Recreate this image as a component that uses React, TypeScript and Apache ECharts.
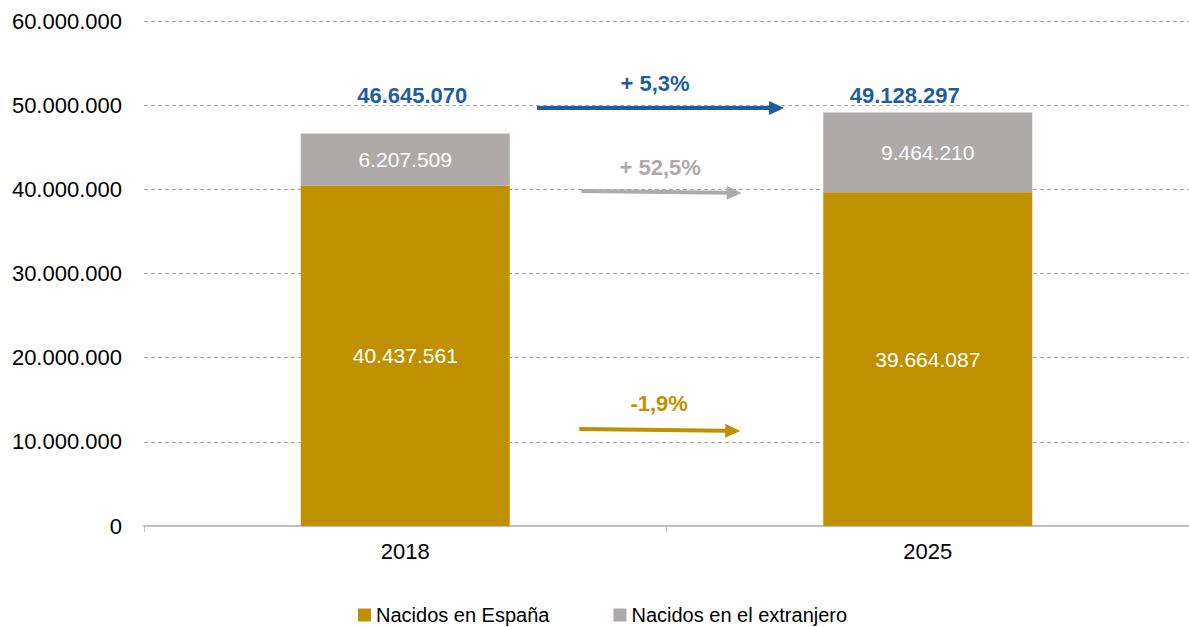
import React, { useEffect, useRef } from "react";
import * as echarts from "echarts";

const categories = ["2018", "2025"];
const nacidosEspana = [40437561, 39664087];
const nacidosExtranjero = [6207509, 9464210];
const totals = [46645070, 49128297];
const totalLabelValue = 51100000;

// Change arrows: x as fraction between the two category centres, y as axis values
const arrowFrom = [0.252, 0.337, 0.333];
const arrowTo = [0.725, 0.644, 0.641];
const arrowFromValue = [49660000, 39800000, 11520000];
const arrowToValue = [49660000, 39560000, 11290000];
const arrowLabels = ["+ 5,3%", "+ 52,5%", "-1,9%"];
const arrowLabelFrac = [0.478, 0.488, 0.486];
const arrowLabelValue = [52630000, 42650000, 14610000];
const arrowColors = ["#1F5E9E", "#AEAAAA", "#BF9000"];

const GOLD = "#BF9000";
const GREY = "#AEAAAA";
const BLUE = "#1F5E9E";
const FONT = "'Liberation Sans', Arial, sans-serif";

const fmt = (v: number) =>
  Math.round(v)
    .toString()
    .replace(/\B(?=(\d{3})+(?!\d))/g, ".");

export default function App() {
  const ref = useRef<HTMLDivElement>(null);
  useEffect(() => {
    if (!ref.current) return;
    const chart = echarts.init(ref.current, null, { renderer: "svg" });
    chart.setOption({
      animation: false,
      textStyle: { fontFamily: FONT },
      grid: { left: 144, right: 0, top: 21, bottom: 101 },
      legend: {
        left: 353,
        top: 600,
        itemWidth: 13,
        itemHeight: 13,
        itemGap: 64,
        icon: "rect",
        textStyle: { fontSize: 20, color: "#000", fontFamily: FONT },
        data: ["Nacidos en España", "Nacidos en el extranjero"],
      },
      xAxis: {
        type: "category",
        data: categories,
        axisLine: { lineStyle: { color: "#BFBFBF", width: 2 } },
        axisTick: { show: true, length: 6, lineStyle: { color: "#BFBFBF" } },
        axisLabel: { fontSize: 22, color: "#000", margin: 14, fontFamily: FONT },
      },
      yAxis: {
        type: "value",
        min: 0,
        max: 60000000,
        interval: 10000000,
        axisLine: { show: false },
        axisTick: { show: false },
        axisLabel: {
          fontSize: 22,
          color: "#000",
          margin: 22,
          fontFamily: FONT,
          formatter: (v: number) => fmt(v),
        },
        splitLine: { lineStyle: { color: "#A6A6A6", type: [4, 3], width: 1 } },
      },
      series: [
        {
          name: "Nacidos en España",
          type: "bar",
          stack: "total",
          barWidth: "40%",
          data: nacidosEspana,
          itemStyle: { color: GOLD },
          label: {
            show: true,
            position: "inside",
            color: "#fff",
            fontSize: 21,
            fontFamily: FONT,
            formatter: (p: any) => fmt(p.value),
          },
        },
        {
          name: "Nacidos en el extranjero",
          type: "bar",
          stack: "total",
          barWidth: "40%",
          data: nacidosExtranjero,
          itemStyle: { color: GREY },
          label: {
            show: true,
            position: "inside",
            color: "#fff",
            fontSize: 21,
            fontFamily: FONT,
            formatter: (p: any) => fmt(p.value),
          },
        },
      ],
    });

    const cx = categories.map((c) => chart.convertToPixel({ xAxisIndex: 0 }, c) as number);
    const py = (v: number) => chart.convertToPixel({ yAxisIndex: 0 }, v) as number;
    const fx = (f: number) => cx[0] + (cx[1] - cx[0]) * f;

    const graphics: any[] = [];
    totals.forEach((t, i) => {
      graphics.push({
        type: "text",
        x: cx[i] + (i === 0 ? 7 : -23),
        y: py(totalLabelValue),
        style: {
          text: fmt(t),
          fill: BLUE,
          font: `bold 22px ${FONT}`,
          align: "center",
          verticalAlign: "middle",
        },
      });
    });
    arrowLabels.forEach((lab, i) => {
      const x1 = fx(arrowFrom[i]);
      const x2 = fx(arrowTo[i]);
      const y1 = py(arrowFromValue[i]);
      const y2 = py(arrowToValue[i]);
      const head = 15;
      const hw = 7;
      const ang = Math.atan2(y2 - y1, x2 - x1);
      const bx = x2 - head * Math.cos(ang);
      const by = y2 - head * Math.sin(ang);
      const nx = -Math.sin(ang) * hw;
      const ny = Math.cos(ang) * hw;
      graphics.push({
        type: "line",
        shape: { x1, y1, x2: bx + 1, y2: by },
        style: { stroke: arrowColors[i], lineWidth: 4 },
      });
      graphics.push({
        type: "polygon",
        shape: {
          points: [
            [x2, y2],
            [bx + nx, by + ny],
            [bx - nx, by - ny],
          ],
        },
        style: { fill: arrowColors[i] },
      });
      graphics.push({
        type: "text",
        x: fx(arrowLabelFrac[i]),
        y: py(arrowLabelValue[i]),
        style: {
          text: lab,
          fill: arrowColors[i],
          font: `bold 22px ${FONT}`,
          align: "center",
          verticalAlign: "middle",
        },
      });
    });
    chart.setOption({ graphic: graphics });

    return () => chart.dispose();
  }, []);
  return (
    <div
      ref={ref}
      style={{ position: "absolute", left: 0, top: 0, width: 1189, height: 627, background: "#fff" }}
    />
  );
}
